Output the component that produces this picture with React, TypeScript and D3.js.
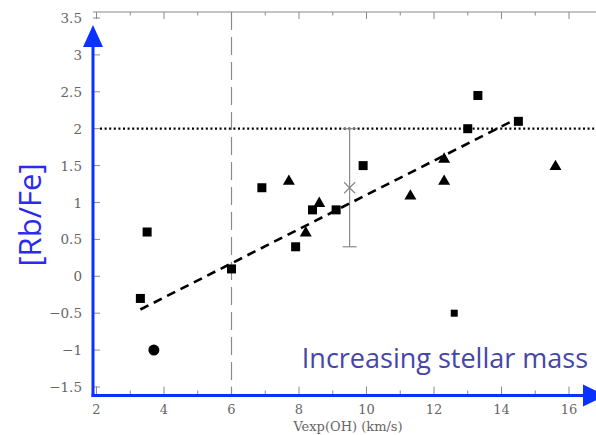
import React from "react";
import * as d3 from "d3";

// Rb/Fe abundance vs OH expansion velocity
const squaresX = [3.3, 3.5, 6.0, 6.9, 7.9, 8.4, 9.1, 9.9, 13.0, 13.3, 14.5];
const squaresY = [-0.3, 0.6, 0.1, 1.2, 0.4, 0.9, 0.9, 1.5, 2.0, 2.45, 2.1];
const smallSquareX = [12.6];
const smallSquareY = [-0.5];
const trianglesX = [7.7, 8.6, 8.2, 11.3, 12.3, 12.3, 15.6];
const trianglesY = [1.3, 1.0, 0.6, 1.1, 1.6, 1.3, 1.5];
const circlesX = [3.7];
const circlesY = [-1.0];
// mean value with error bar
const meanX = [9.5];
const meanY = [1.2];
const meanLow = [0.4];
const meanHigh = [2.0];
// linear fit
const fitX = [3.3, 14.3];
const fitY = [-0.45, 2.1];
const xTicks = [2, 4, 6, 8, 10, 12, 14, 16];
const xMinorTicks = [3, 5, 7, 9, 11, 13, 15, 17];
const yTicks = [-1.5, -1, -0.5, 0, 0.5, 1, 1.5, 2, 2.5, 3, 3.5];
const thresholdX = 6;
const thresholdY = 2;

const W = 596;
const H = 435;
const BLUE = "#0a32ff";
const GRAY = "#8a8a8a";

export default function App() {
  const x = d3.scaleLinear().domain([2, 16]).range([96.5, 569]);
  const y = d3.scaleLinear().domain([-1.5, 3.5]).range([387, 18]);
  const left = 93;
  const top = 12;
  const bottom = 395.5;
  const right = 620;
  const fmt = (v: number) => (v < 0 ? "\u2212" + String(Math.abs(v)) : String(v));
  const tri = d3.symbol().type(d3.symbolTriangle).size(62)() as string;
  const line = d3.line<number>().x((_, i) => x(fitX[i])).y((_, i) => y(fitY[i]));

  return (
    <svg width={W} height={H} style={{ position: "absolute", left: 0, top: 0, background: "#fff" }}>
      {/* frame */}
      <line x1={left} x2={right} y1={top} y2={top} stroke={GRAY} strokeWidth={1} />
      {/* top ticks */}
      {xTicks.map((t) => (
        <line key={"tt" + t} x1={x(t)} x2={x(t)} y1={top} y2={top + 7} stroke={GRAY} />
      ))}
      {xMinorTicks.map((t) => (
        <line key={"tm" + t} x1={x(t)} x2={x(t)} y1={top} y2={top + 3.5} stroke={GRAY} />
      ))}
      {/* bottom ticks */}
      {xTicks.map((t) => (
        <line key={"bt" + t} x1={x(t)} x2={x(t)} y1={bottom} y2={bottom - 9} stroke={GRAY} />
      ))}
      {xMinorTicks.map((t) => (
        <line key={"bm" + t} x1={x(t)} x2={x(t)} y1={bottom} y2={bottom - 5} stroke={GRAY} />
      ))}
      {/* left ticks */}
      {yTicks.map((t) => (
        <line key={"lt" + t} x1={left} x2={left + 7} y1={y(t)} y2={y(t)} stroke={GRAY} />
      ))}
      {/* tick labels */}
      {yTicks.map((t) => (
        <text key={"yl" + t} x={82} y={y(t) + 5} textAnchor="end" fontFamily="DejaVu Serif" fontSize={13.5} fill="#666">
          {fmt(t)}
        </text>
      ))}
      {xTicks.map((t) => (
        <text key={"xl" + t} x={x(t)} y={413.5} textAnchor="middle" fontFamily="DejaVu Serif" fontSize={13} fill="#666">
          {fmt(t)}
        </text>
      ))}
      <text x={348} y={431} textAnchor="middle" fontFamily="DejaVu Serif" fontSize={13} fill="#666">
        Vexp(OH) (km/s)
      </text>

      {/* reference lines */}
      <line x1={x(thresholdX)} x2={x(thresholdX)} y1={top} y2={bottom} stroke={GRAY} strokeWidth={1.2} strokeDasharray="18,7" />
      <line x1={left + 7} x2={W} y1={y(thresholdY)} y2={y(thresholdY)} stroke="#000" strokeWidth={2.2} strokeDasharray="2,2.6" />

      {/* error bar */}
      {meanX.map((v, i) => (
        <g key={"eb" + i} stroke={GRAY} strokeWidth={1.2}>
          <line x1={x(v)} x2={x(v)} y1={y(meanLow[i])} y2={y(meanHigh[i])} />
          <line x1={x(v) - 7} x2={x(v) + 7} y1={y(meanLow[i])} y2={y(meanLow[i])} />
          <line x1={x(v) - 7} x2={x(v) + 7} y1={y(meanHigh[i])} y2={y(meanHigh[i])} />
          <line x1={x(v) - 5.5} x2={x(v) + 5.5} y1={y(meanY[i]) - 5.5} y2={y(meanY[i]) + 5.5} />
          <line x1={x(v) - 5.5} x2={x(v) + 5.5} y1={y(meanY[i]) + 5.5} y2={y(meanY[i]) - 5.5} />
        </g>
      ))}

      {/* fit */}
      <path d={line(fitX) as string} fill="none" stroke="#000" strokeWidth={2.6} strokeDasharray="9,6" />

      {/* markers */}
      {squaresX.map((v, i) => (
        <rect key={"s" + i} x={x(v) - 4.5} y={y(squaresY[i]) - 4.5} width={9} height={9} fill="#000" />
      ))}
      {smallSquareX.map((v, i) => (
        <rect key={"ss" + i} x={x(v) - 3.5} y={y(smallSquareY[i]) - 3.5} width={7} height={7} fill="#000" />
      ))}
      {trianglesX.map((v, i) => (
        <path key={"t" + i} d={tri} transform={`translate(${x(v)},${y(trianglesY[i]) + 1})`} fill="#000" />
      ))}
      {circlesX.map((v, i) => (
        <circle key={"c" + i} cx={x(v)} cy={y(circlesY[i])} r={5.5} fill="#000" />
      ))}

      {/* blue axis arrows */}
      <line x1={left} x2={left} y1={bottom + 1.5} y2={44} stroke={BLUE} strokeWidth={3} />
      <path d={`M${left},25 L${left + 10},47 L${left - 10},47 Z`} fill={BLUE} />
      <line x1={left - 1.5} x2={585} y1={bottom} y2={bottom} stroke={BLUE} strokeWidth={3} />
      <path d={`M583,${bottom - 11} L606,${bottom} L583,${bottom + 11} Z`} fill={BLUE} />

      {/* annotations */}
      <text
        transform="translate(41,215) rotate(-90)"
        textAnchor="middle"
        fontFamily="Open Sans"
        fontSize={31}
        fill="#2a2af0"
      >
        [Rb/Fe]
      </text>
      <text x={588} y={368} textAnchor="end" fontFamily="Open Sans" fontSize={27} fill="#4646a8">
        Increasing stellar mass
      </text>
    </svg>
  );
}
